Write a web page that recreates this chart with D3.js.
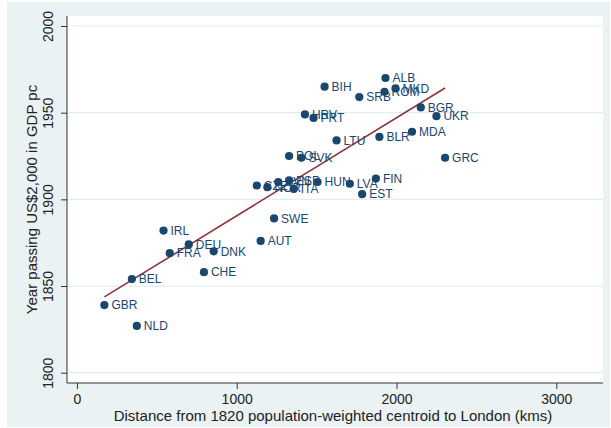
<!DOCTYPE html>
<html>
<head>
<meta charset="utf-8">
<script src="https://d3js.org/d3.v7.min.js"></script>
<style>
  body { margin: 0; background: #fff; }
  text { font-family: "Liberation Sans", Arial, sans-serif; }
</style>
</head>
<body>
<div id="chart"></div>
<script>
// country codes, distance to London (kms) and year passing US$2,000
const countries = ["GBR","NLD","BEL","CHE","FRA","DNK","DEU","AUT","IRL","SWE","EST","CZE","NOR","SVN","ESP","ITA","HUN","LVA","FIN","SVK","GRC","POL","LTU","BLR","MDA","PRT","UKR","HRV","BGR","SRB","ROM","MKD","BIH","ALB"];
const distance = [172,375,344,795,581,856,700,1150,542,1234,1785,1126,1192,1260,1328,1357,1506,1708,1871,1405,2304,1328,1625,1893,2097,1481,2250,1427,2152,1767,1925,1994,1550,1931];
const year = [1839,1827,1854,1858,1869,1870,1874,1876,1882,1889,1903,1908,1907,1910,1911,1906,1910,1909,1912,1924,1924,1925,1934,1936,1939,1947,1948,1949,1953,1959,1962,1964,1965,1970];
const xTicks = [0, 1000, 2000, 3000];
const yTicks = [1800, 1850, 1900, 1950, 2000];

const W = 611, H = 428;
const plot = { left: 67, right: 603, top: 16, bottom: 383 };

const svg = d3.select("#chart").append("svg")
  .attr("width", W).attr("height", H);

// outer background + white plot region
svg.append("rect").attr("x", 7).attr("y", 2).attr("width", W - 8).attr("height", H - 3)
  .attr("fill", "#eaf2f3");
svg.append("rect").attr("x", plot.left).attr("y", plot.top)
  .attr("width", plot.right - plot.left).attr("height", plot.bottom - plot.top)
  .attr("fill", "#fff");

const x = d3.scaleLinear().domain([0, 3000]).range([76.9, 556.3]);
const y = d3.scaleLinear().domain([1800, 2000]).range([372.7, 26]);

// gridlines
svg.append("g").selectAll("line").data(yTicks).join("line")
  .attr("x1", plot.left + 1).attr("x2", plot.right)
  .attr("y1", d => y(d)).attr("y2", d => y(d))
  .attr("stroke", "#e3edf1").attr("stroke-width", 1.2);

// y axis (labels turned upright like Stata's vertical labels)
const yAxis = svg.append("g").attr("transform", `translate(${plot.left},0)`)
  .call(d3.axisLeft(y).tickValues(yTicks).tickSize(6).tickFormat(d3.format("d")));
yAxis.select(".domain").remove();
yAxis.selectAll("line").attr("stroke", "#333");
yAxis.selectAll("text")
  .attr("x", null).attr("dy", null)
  .attr("transform", "translate(-13.7,0) rotate(-90)")
  .attr("text-anchor", "middle")
  .attr("font-size", 14).attr("fill", "#222");
svg.append("line").attr("x1", plot.left).attr("x2", plot.left)
  .attr("y1", plot.top).attr("y2", plot.bottom).attr("stroke", "#333");

// x axis
const xAxis = svg.append("g").attr("transform", `translate(0,${plot.bottom})`)
  .call(d3.axisBottom(x).tickValues(xTicks).tickSize(6).tickFormat(d3.format("d")));
xAxis.select(".domain").remove();
xAxis.selectAll("line").attr("stroke", "#333");
xAxis.selectAll("text").attr("y", 21).attr("dy", 0)
  .attr("font-size", 14).attr("fill", "#222");
svg.append("line").attr("x1", plot.left).attr("x2", plot.right)
  .attr("y1", plot.bottom).attr("y2", plot.bottom).attr("stroke", "#333");

// axis titles
svg.append("text").attr("x", 333).attr("y", 420.5)
  .attr("text-anchor", "middle").attr("font-size", 15).attr("fill", "#222")
  .text("Distance from 1820 population-weighted centroid to London (kms)");
svg.append("text")
  .attr("transform", `translate(36.5,${(plot.top + plot.bottom) / 2}) rotate(-90)`)
  .attr("text-anchor", "middle").attr("font-size", 15).attr("fill", "#222")
  .text("Year passing US$2,000 in GDP pc");

// linear fit
const pts = countries.map((c, i) => ({ code: c, d: distance[i], yr: year[i] }));
const mx = d3.mean(distance), my = d3.mean(year);
const slope = d3.sum(pts, p => (p.d - mx) * (p.yr - my)) / d3.sum(pts, p => (p.d - mx) ** 2);
const icpt = my - slope * mx;
const [xmin, xmax] = d3.extent(distance);
svg.append("line")
  .attr("x1", x(xmin)).attr("y1", y(icpt + slope * xmin))
  .attr("x2", x(xmax)).attr("y2", y(icpt + slope * xmax))
  .attr("stroke", "#90353b").attr("stroke-width", 1.6);

// points + labels
const g = svg.append("g");
g.selectAll("circle").data(pts).join("circle")
  .attr("cx", p => x(p.d)).attr("cy", p => y(p.yr)).attr("r", 4.1)
  .attr("fill", "#1a476f");
g.selectAll("text").data(pts).join("text")
  .attr("x", p => x(p.d) + 7).attr("y", p => y(p.yr)).attr("dy", "0.36em")
  .attr("font-size", 12).attr("fill", "#1a476f")
  .text(p => p.code);
</script>
</body>
</html>
